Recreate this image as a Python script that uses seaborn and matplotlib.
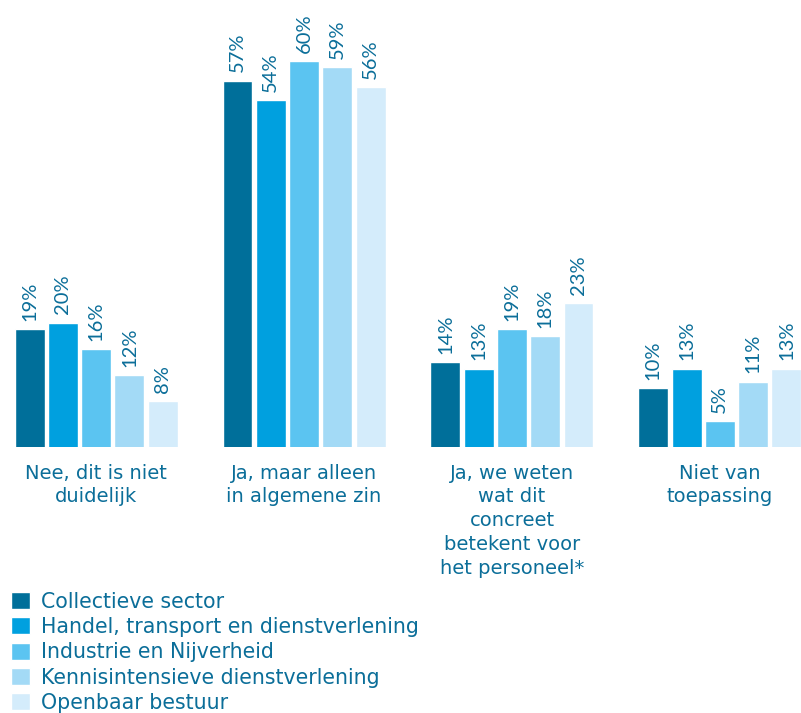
import pandas as pd
import seaborn as sns
import matplotlib.pyplot as plt

# Data
categories = ["Nee, dit is niet\nduidelijk",
              "Ja, maar alleen\nin algemene zin",
              "Ja, we weten\nwat dit\nconcreet\nbetekent voor\nhet personeel*",
              "Niet van\ntoepassing"]
sectors = ["Collectieve sector",
           "Handel, transport en dienstverlening",
           "Industrie en Nijverheid",
           "Kennisintensieve dienstverlening",
           "Openbaar bestuur"]
collectieve = [19, 57, 14, 10]
handel = [20, 54, 13, 13]
industrie = [16, 60, 19, 5]
kennis = [12, 59, 18, 11]
openbaar = [8, 56, 23, 13]

colors = ["#006f9a", "#00a0df", "#5bc4f1", "#a3daf6", "#d4ecfb"]
text_color = "#0b6e99"

rows = []
for sector, vals in zip(sectors, [collectieve, handel, industrie, kennis, openbaar]):
    for cat, v in zip(categories, vals):
        rows.append({"categorie": cat, "sector": sector, "pct": v})
df = pd.DataFrame(rows)

sns.set_style("white")
plt.rcParams["font.family"] = ["DejaVu Sans"]

fig = plt.figure(figsize=(8.01, 7.13), dpi=100)
ax = fig.add_axes([13 / 801, 266 / 713, 790 / 801, 447 / 713])

sns.barplot(data=df, x="categorie", y="pct", hue="sector", order=categories,
            hue_order=sectors, palette=colors, width=0.8, gap=0.1,
            saturation=1, errorbar=None, ax=ax)

# percentage labels above the bars, rotated
for cont in ax.containers:
    ax.bar_label(cont, labels=[f"{int(b.get_height())}%" for b in cont],
                 rotation=90, padding=6, fontsize=14.5, color=text_color,
                 fontfamily="Lato")

ax.set_xlim(-0.4, 3.4)
ax.set_ylim(1.02, 69.3)
ax.set_xlabel("")
ax.set_ylabel("")
ax.set_yticks([])
ax.tick_params(axis="x", length=0, pad=12, labelsize=14, labelcolor=text_color)
for lbl in ax.get_xticklabels():
    lbl.set_linespacing(1.32)
sns.despine(ax=ax, left=True, bottom=True)

handles, labels = ax.get_legend_handles_labels()
ax.legend(handles, labels, loc="upper left", bbox_to_anchor=(0.014, 0.17),
          bbox_transform=fig.transFigure, frameon=False, fontsize=14.8,
          labelcolor=text_color, handlelength=0.9, handleheight=0.9,
          handletextpad=0.55, labelspacing=0.255, borderpad=0, borderaxespad=0)

fig.savefig("out.png", dpi=100)
